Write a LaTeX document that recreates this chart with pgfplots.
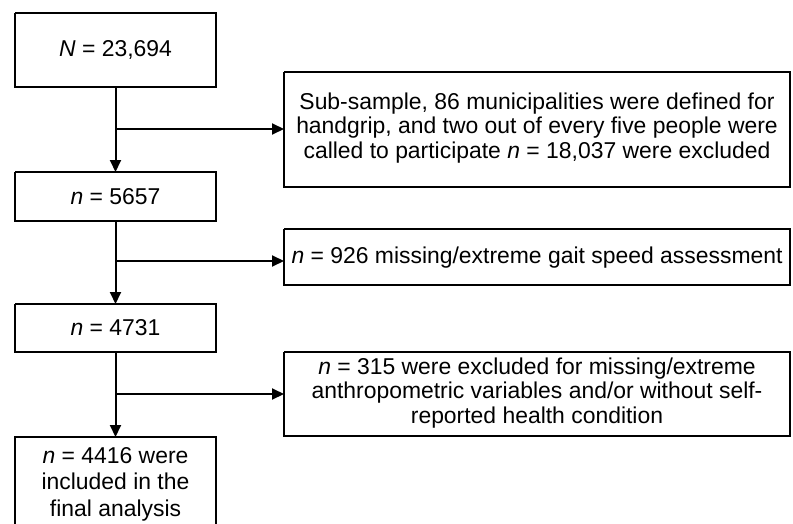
\documentclass[border=0pt]{standalone}
\usepackage{pgfplots}
\pgfplotsset{compat=1.18}
\usepackage{fontspec}
\setmainfont{Liberation Sans}
\usetikzlibrary{arrows.meta}
\begin{document}
\begin{tikzpicture}
\begin{axis}[
  width=793bp, height=524bp, scale only axis,
  xmin=0, xmax=793, ymin=0, ymax=524, y dir=reverse,
  axis lines=none, ticks=none, clip=true,
]
% frame to fix the bounding box (invisible)
\addplot[draw=none] coordinates {(0,0) (793,524)};
% boxes
\addplot[black, line width=2bp] coordinates {(15,13) (216,13) (216,87) (15,87) (15,13)};
\addplot[black, line width=2bp] coordinates {(284,72) (790,72) (790,187) (284,187) (284,72)};
\addplot[black, line width=2bp] coordinates {(15,172) (216,172) (216,221) (15,221) (15,172)};
\addplot[black, line width=2bp] coordinates {(284,229) (790,229) (790,285) (284,285) (284,229)};
\addplot[black, line width=2bp] coordinates {(15,304) (216,304) (216,352) (15,352) (15,304)};
\addplot[black, line width=2bp] coordinates {(284,352) (790,352) (790,436) (284,436) (284,352)};
\addplot[black, line width=2bp] coordinates {(15,524) (15,437) (216,437) (216,524)};
% vertical arrows
\addplot[black, line width=2bp, -{Triangle[length=12bp,width=11bp]}] coordinates {(115.5,87) (115.5,172)};
\addplot[black, line width=2bp, -{Triangle[length=12bp,width=11bp]}] coordinates {(115.5,221) (115.5,304)};
\addplot[black, line width=2bp, -{Triangle[length=12bp,width=11bp]}] coordinates {(115.5,352) (115.5,437)};
% horizontal arrows
\addplot[black, line width=2bp, -{Triangle[length=12bp,width=11bp]}] coordinates {(115.5,129) (284,129)};
\addplot[black, line width=2bp, -{Triangle[length=12bp,width=11bp]}] coordinates {(115.5,261) (284,261)};
\addplot[black, line width=2bp, -{Triangle[length=12bp,width=11bp]}] coordinates {(115.5,394) (284,394)};
% texts
\node[align=center, font=\fontsize{23}{25}\selectfont] at (axis cs:115.5,50) {\textit{N} = 23,694};
\node[align=center, font=\fontsize{23}{24.3}\selectfont] at (axis cs:537,128) {Sub-sample, 86 municipalities were defined for\\handgrip, and two out of every five people were\\called to participate \textit{n} = 18,037 were excluded};
\node[align=center, font=\fontsize{23}{25}\selectfont] at (axis cs:115.5,196.5) {\textit{n} = 5657};
\node[align=center, font=\fontsize{23}{25}\selectfont] at (axis cs:537,258) {\textit{n} = 926 missing/extreme gait speed assessment};
\node[align=center, font=\fontsize{23}{25}\selectfont] at (axis cs:115.5,328) {\textit{n} = 4731};
\node[align=center, font=\fontsize{23}{24.3}\selectfont] at (axis cs:537,393) {\textit{n} = 315 were excluded for missing/extreme\\anthropometric variables and/or without self-\\reported health condition};
\node[align=center, font=\fontsize{23}{26.7}\selectfont] at (axis cs:115.5,484) {\textit{n} = 4416 were\\included in the\\final analysis};
\end{axis}
\end{tikzpicture}
\end{document}
